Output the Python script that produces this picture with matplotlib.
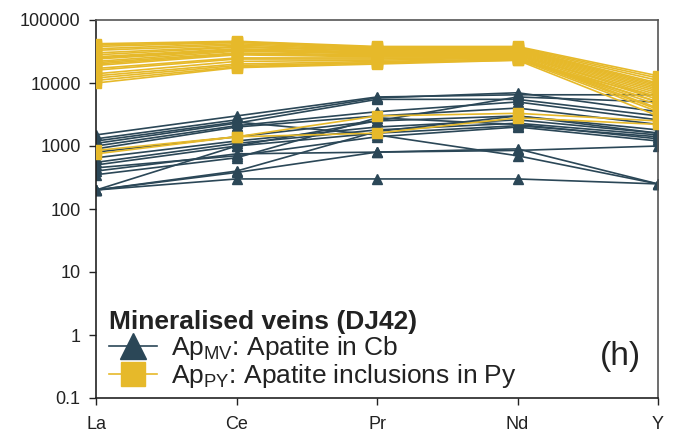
import matplotlib
matplotlib.use("Agg")
import matplotlib.pyplot as plt
from matplotlib.lines import Line2D

plt.rcParams['font.family'] = ['Liberation Sans', 'DejaVu Sans']
plt.rcParams['mathtext.fontset'] = 'custom'
plt.rcParams['mathtext.rm'] = 'Liberation Sans'

elements = ["La", "Ce", "Pr", "Nd", "Y"]
y_ticks = [0.1, 1, 10, 100, 1000, 10000, 100000]
y_tick_labels = ["0.1", "1", "10", "100", "1000", "10000", "100000"]

# Apatite in carbonate (mineralised veins), one row per analysis: La, Ce, Pr, Nd, Y
ap_mv = [
    [1500, 3000, 6000, 6500, 6500],
    [1300, 2600, 5800, 7000, 3500],
    [1100, 2300, 5500, 5500, 3000],
    [1000, 2100, 3500, 5000, 2600],
    [900, 2000, 3000, 4000, 2200],
    [800, 1400, 2500, 3000, 1800],
    [650, 1200, 2000, 2600, 1600],
    [550, 1100, 1800, 2300, 1500],
    [500, 1000, 1600, 2100, 1400],
    [450, 700, 1400, 2000, 1200],
    [400, 750, 800, 850, 1000],
    [1200, 2400, 1500, 700, 250],
    [350, 650, 2800, 2200, 1300],
    [200, 400, 1700, 3000, 1600],
    [200, 380, 800, 900, 250],
    [200, 300, 300, 300, 250],
    [200, 1000, 2500, 6000, 5000],
]

# Apatite inclusions in pyrite, one row per analysis: La, Ce, Pr, Nd, Y
ap_py = [
    [42000, 46000, 38000, 38000, 13000],
    [40000, 45000, 37000, 37000, 12000],
    [38000, 44000, 36000, 36000, 11000],
    [35000, 42000, 35000, 35000, 10000],
    [33000, 40000, 34000, 34000, 9500],
    [30000, 38000, 33000, 33000, 9000],
    [28000, 37000, 32000, 32000, 8500],
    [26000, 35000, 31000, 31000, 8000],
    [25000, 34000, 30000, 30000, 7500],
    [24000, 33000, 30000, 29000, 7000],
    [22000, 32000, 29000, 28000, 6500],
    [21000, 30000, 28000, 28000, 6000],
    [20000, 29000, 27000, 27000, 5500],
    [19000, 28000, 26000, 26000, 5000],
    [17000, 25000, 25000, 25000, 4500],
    [16000, 24000, 24000, 26000, 4000],
    [14000, 22000, 23000, 25000, 3800],
    [13000, 20000, 22000, 24000, 3500],
    [12000, 19000, 21000, 23000, 3000],
    [11000, 18000, 21000, 24000, 5000],
    [10000, 17500, 20000, 23000, 6000],
    [850, 1400, 3000, 3300, 2500],
    [750, 1400, 1600, 2800, 2200],
]

dark = "#2b4757"
gold = "#e6b92a"
text_col = "#222222"
spine_col = "#555555"

fig = plt.figure(figsize=(6.77, 4.33), dpi=100)
ax = fig.add_axes([96 / 677, 35 / 433, 562 / 677, 378 / 433])

x = list(range(len(elements)))
for row in ap_mv:
    ax.plot(x, row, color=dark, lw=1.2, marker="^", ms=7.5, mec=dark, mfc=dark, zorder=2)
for row in ap_py:
    ax.plot(x, row, color=gold, lw=1.2, marker="s", ms=7, mec=gold, mfc=gold, zorder=3)

ax.set_yscale("log")
ax.set_ylim(0.1, 100000)
ax.set_xlim(0, len(elements) - 1)
ax.set_yticks(y_ticks)
ax.set_yticklabels(y_tick_labels)
ax.minorticks_off()
ax.set_xticks(x)
ax.set_xticklabels(elements)
ax.tick_params(axis="both", labelsize=13, colors=text_col, length=5, width=1, pad=6)
ax.tick_params(axis="x", pad=8)
for s in ax.spines.values():
    s.set_color(spine_col)
    s.set_linewidth(1.2)
ax.spines["left"].set_color("#222222")
ax.spines["bottom"].set_color("#222222")

handles = [
    Line2D([], [], color=dark, lw=1.2, marker="^", ms=19, mfc=dark, mec=dark),
    Line2D([], [], color=gold, lw=1.2, marker="s", ms=17, mfc=gold, mec=gold),
]
labels = [
    r"Ap$_{\mathregular{MV}}$: Apatite in Cb",
    r"Ap$_{\mathregular{PY}}$: Apatite inclusions in Py",
]
leg = ax.legend(handles, labels, title="Mineralised veins (DJ42)", loc="lower left",
                bbox_to_anchor=(0.0, -0.015), frameon=False, fontsize=19,
                title_fontproperties={"weight": "bold", "size": 19},
                handlelength=1.8, handletextpad=0.55, labelspacing=0.0,
                borderaxespad=0.3, borderpad=0.2)
leg._legend_box.align = "left"
for t in leg.get_texts():
    t.set_color(text_col)
leg.get_title().set_color(text_col)

ax.text(0.97, 0.11, "(h)", transform=ax.transAxes, fontsize=24, color=text_col,
        ha="right", va="center",
        bbox=dict(facecolor="white", edgecolor="none", pad=4))

fig.savefig("out.png", dpi=100)
